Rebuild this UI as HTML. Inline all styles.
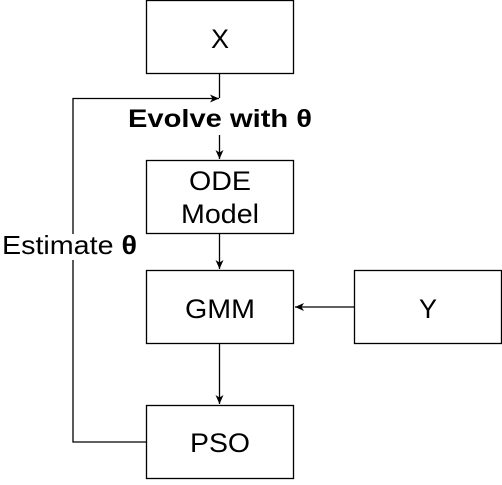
<!DOCTYPE html>
<html><head><style>body{margin:0;background:#fff}</style></head><body>
<svg width="502" height="480" xmlns="http://www.w3.org/2000/svg" font-family="Liberation Sans, Arial, sans-serif">
<defs><marker id="a" markerWidth="10" markerHeight="10" refX="9" refY="5" orient="auto" markerUnits="userSpaceOnUse"><path d="M0,1 L9,5 L0,9 L2.5,5 Z" fill="#000"/></marker></defs>
<g fill="#fff" stroke="#000" stroke-width="1.3">
<rect x="146.5" y="0.5" width="147" height="73"/>
<rect x="146.5" y="160.5" width="147" height="73"/>
<rect x="146.5" y="270.5" width="147" height="73"/>
<rect x="354.5" y="270.5" width="147" height="73"/>
<rect x="146.5" y="405.5" width="147" height="73"/>
</g>
<g stroke="#000" stroke-width="1.3" fill="none">
<path d="M219.5,74 V98"/>
<path d="M146,442 H73 V98.5 H219" marker-end="url(#a)"/>
<path d="M219.5,135 V159" marker-end="url(#a)"/>
<path d="M219.5,234 V269" marker-end="url(#a)"/>
<path d="M219.5,344 V404" marker-end="url(#a)"/>
<path d="M354,307 H295" marker-end="url(#a)"/>
</g>
<g font-size="27" text-anchor="middle" fill="#000">
<text x="220" y="48">X</text>
<text x="220" y="190" textLength="62" lengthAdjust="spacingAndGlyphs">ODE</text>
<text x="220" y="223" textLength="78" lengthAdjust="spacingAndGlyphs">Model</text>
<text x="220" y="318" textLength="70" lengthAdjust="spacingAndGlyphs">GMM</text>
<text x="428" y="318">Y</text>
<text x="220" y="452" textLength="60" lengthAdjust="spacingAndGlyphs">PSO</text>
</g>
<rect x="0" y="234" width="140" height="26" fill="#fff"/>
<text x="2" y="254" font-size="26" textLength="135" lengthAdjust="spacingAndGlyphs">Estimate <tspan font-weight="bold">θ</tspan></text>
<text x="128" y="127" font-size="25" font-weight="bold" textLength="184" lengthAdjust="spacingAndGlyphs">Evolve with θ</text>
</svg>
</body></html>
